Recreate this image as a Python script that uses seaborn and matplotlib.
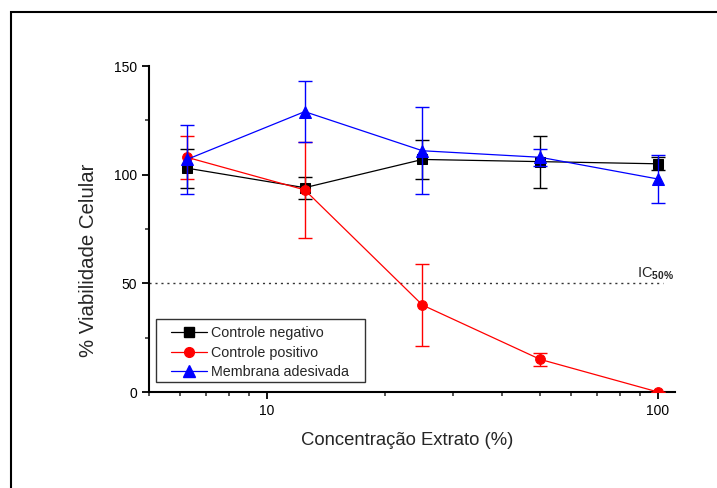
import matplotlib
matplotlib.use("Agg")
import matplotlib.pyplot as plt
import matplotlib.patches as mpatches
from matplotlib.lines import Line2D
from matplotlib.legend_handler import HandlerLine2D
from matplotlib.ticker import LogLocator, NullFormatter, FixedLocator, FixedFormatter, MultipleLocator
import seaborn as sns
import pandas as pd

conc = [6.25, 12.5, 25, 50, 100]
neg_mean = [103, 94, 107, 106, 105]
neg_err = [9, 5, 9, 12, 3]
pos_mean = [108, 93, 40, 15, 0]
pos_err = [10, 22, 19, 3, 0]
mem_mean = [107, 129, 111, 108, 98]
mem_err = [16, 14, 20, 4, 11]
series_names = ["Controle negativo", "Controle positivo", "Membrana adesivada"]
ic50 = 50

sns.set_theme(style="ticks")
plt.rcParams['font.family'] = ['Liberation Sans', 'DejaVu Sans']
plt.rcParams['mathtext.fontset'] = 'custom'
plt.rcParams['mathtext.rm'] = 'Liberation Sans'
plt.rcParams['mathtext.bf'] = 'Liberation Sans:bold'

fig = plt.figure(figsize=(7.17, 4.88), dpi=100)
ax = fig.add_axes([149/717, 1-392/488, (675-149)/717, (392-66)/488])

df = pd.DataFrame({
    "conc": conc * 3,
    "val": neg_mean + pos_mean + mem_mean,
    "serie": [series_names[0]]*5 + [series_names[1]]*5 + [series_names[2]]*5,
})
colors = ["black", "#ff0000", "#0000ff"]
markers = ["s", "o", "^"]
msizes = [7, 7, 8]
errs = [neg_err, pos_err, mem_err]
means = [neg_mean, pos_mean, mem_mean]

ax.plot([0, 0.978], [ic50, ic50], transform=ax.get_yaxis_transform(),
        color="#333333", ls=(0, (1.5, 2.8)), lw=1.0, zorder=1)

for i, name in enumerate(series_names):
    sub = df[df.serie == name]
    ax.errorbar(conc, means[i], yerr=errs[i], fmt="none", ecolor=colors[i],
                elinewidth=1.0, capsize=5, capthick=1.0, zorder=2 + i)
    sns.lineplot(data=sub, x="conc", y="val", color=colors[i], marker=markers[i],
                 markersize=msizes[i], markeredgecolor=colors[i], lw=0.9,
                 ax=ax, zorder=2.5 + i, legend=False)

ax.set_xscale("log")
ax.set_xlim(5.0, 110.5)
ax.set_ylim(0, 150)
ax.xaxis.set_major_locator(FixedLocator([10, 100]))
ax.xaxis.set_major_formatter(FixedFormatter(["10", "100"]))
ax.xaxis.set_minor_locator(LogLocator(base=10, subs=range(2, 10)))
ax.xaxis.set_minor_formatter(NullFormatter())
ax.yaxis.set_major_locator(FixedLocator([0, 50, 100, 150]))
ax.yaxis.set_minor_locator(MultipleLocator(25))

for s in ["top", "right"]:
    ax.spines[s].set_visible(False)
for s in ["left", "bottom"]:
    ax.spines[s].set_linewidth(1.5)
    ax.spines[s].set_color("black")
ax.tick_params(which="major", direction="out", length=5, width=1.3, labelsize=10, colors="black")
ax.tick_params(which="minor", direction="out", length=3, width=1.1)

ax.set_xlabel("Concentração Extrato (%)", fontsize=13.3)
ax.xaxis.set_label_coords(0.491, -0.122)
ax.set_ylabel("% Viabilidade Celular", fontsize=14.7)
ax.yaxis.set_label_coords(-0.097, 0.405)

ax.text(0.998, 53.0, r"IC$_{\mathbf{50\%}}$", transform=ax.get_yaxis_transform(),
        ha="right", va="baseline", fontsize=10.5)


class ShiftedHandler(HandlerLine2D):
    def __init__(self, shift, **kw):
        super().__init__(**kw)
        self.shift = shift

    def create_artists(self, legend, orig_handle, xdescent, ydescent, width, height, fontsize, trans):
        return super().create_artists(legend, orig_handle, xdescent - self.shift, ydescent,
                                      width - self.shift, height, fontsize, trans)


handles = [Line2D([0], [0], color=colors[i], marker=markers[i], markersize=msizes[i],
                  lw=0.9) for i in range(3)]
fs_leg = 10.3
hl_px = 46.0
shift_pt = 10.0 * 72 / 100
leg = ax.legend(handles, series_names, loc="lower left", bbox_to_anchor=(0.0125, 0.024),
                frameon=False, fontsize=fs_leg,
                handlelength=hl_px * 0.72 / fs_leg, handletextpad=0.3, borderpad=0.35,
                labelspacing=0.38, borderaxespad=0,
                handler_map={Line2D: ShiftedHandler(shift_pt)})
ax.add_patch(mpatches.Rectangle((0.0125, 0.0307), 0.398, 0.193, transform=ax.transAxes,
                                fill=True, fc="white", ec="#333333", lw=1.0, zorder=6))
leg.set_zorder(7)

fig.patches.append(mpatches.Rectangle((11/717, -0.1), 1.2, 1 - 12/488 + 0.1,
                   transform=fig.transFigure, fill=False, lw=1.5, ec="black"))

fig.savefig("out.png", dpi=100)
